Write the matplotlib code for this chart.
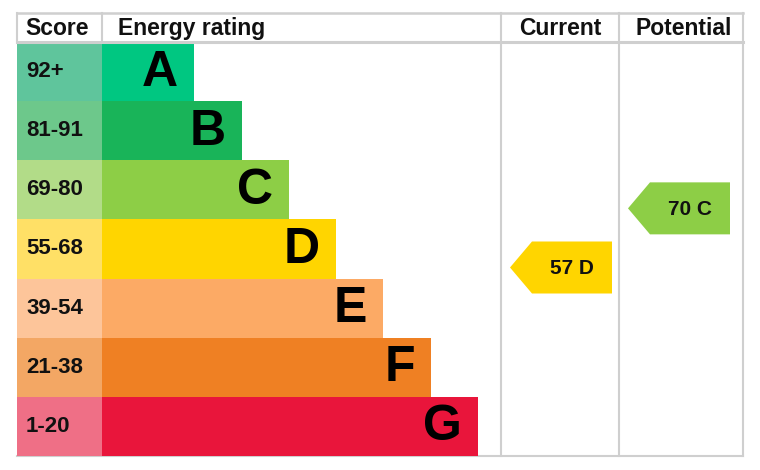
import matplotlib
matplotlib.use("Agg")
import matplotlib.pyplot as plt
from matplotlib.patches import Polygon

# ---- data ----
bands = ['A', 'B', 'C', 'D', 'E', 'F', 'G']
score_ranges = ['92+', '81-91', '69-80', '55-68', '39-54', '21-38', '1-20']
bar_widths = [92, 140, 187, 234, 281, 329, 376]
bar_colors = ['#00c781', '#19b459', '#8dce46', '#ffd500', '#fcaa65', '#ef8023', '#e9153b']
score_colors = ['#5fc59c', '#6dc88b', '#b2dc88', '#ffe066', '#fdc59a', '#f3a764', '#ef6f86']
headers = ['Score', 'Energy rating', 'Current', 'Potential']
current_score, current_band = 57, 'D'
potential_score, potential_band = 70, 'C'

plt.rcParams['font.family'] = ['Liberation Sans', 'DejaVu Sans']

fig = plt.figure(figsize=(7.6, 4.7), dpi=100)
ax = fig.add_axes([0, 0, 1, 1])
ax.set_xlim(0, 760)
ax.set_ylim(470, 0)
ax.axis('off')

left, score_w = 17, 85
bar_left = left + score_w
top, head_bot, bottom = 13, 42, 456
col1, col2, right = 501, 619, 743
row_h = (bottom - head_bot) / len(bands)
centers = [head_bot + row_h * (i + 0.5) for i in range(len(bands))]

# score cells and bars
ax.barh(centers, [score_w] * len(bands), left=left, height=row_h,
        color=score_colors, linewidth=0, zorder=2)
ax.barh(centers, bar_widths, left=bar_left, height=row_h,
        color=bar_colors, linewidth=0, zorder=2)

for c, s, b, w in zip(centers, score_ranges, bands, bar_widths):
    ax.text(left + 9, c, s, ha='left', va='center', fontsize=16,
            fontweight='bold', color='#111111', zorder=4)
    ax.text(bar_left + w - 16, c + 1, b, ha='right', va='center', fontsize=36,
            fontweight='bold', color='#000000', zorder=4)

# grid lines
gc = '#cfcfcf'
ax.plot([left, right], [top, top], color=gc, lw=1.8, zorder=3)
ax.plot([left, right], [head_bot, head_bot], color=gc, lw=2.2, zorder=3)
ax.plot([left, right], [bottom, bottom], color=gc, lw=1.5, zorder=1)
for x in (col1, col2, right):
    ax.plot([x, x], [top, bottom], color=gc, lw=1.5, zorder=3)
for x in (left, bar_left):
    ax.plot([x, x], [top, head_bot], color=gc, lw=1.5, zorder=3)

# headers
hy = (top + head_bot) / 2 + 1
hfs = 16.5
ax.text(left + 8, hy, headers[0], ha='left', va='center', fontsize=hfs,
        fontweight='bold', color='#111111')
ax.text(bar_left + 16, hy, headers[1], ha='left', va='center', fontsize=hfs,
        fontweight='bold', color='#111111')
ax.text((col1 + col2) / 2, hy, headers[2], ha='center', va='center', fontsize=hfs,
        fontweight='bold', color='#111111')
ax.text((col2 + right) / 2 + 3, hy, headers[3], ha='center', va='center', fontsize=hfs,
        fontweight='bold', color='#111111')

def arrow(col_left, score, band):
    i = bands.index(band)
    y = centers[i] + 18.5
    tip = col_left + 9
    shoulder = tip + 22
    rx = tip + 102
    hh = 26
    poly = Polygon([(tip, y), (shoulder, y - hh), (rx, y - hh), (rx, y + hh),
                    (shoulder, y + hh)], closed=True, facecolor=bar_colors[i],
                   edgecolor='none', zorder=4)
    ax.add_patch(poly)
    ax.text((shoulder + rx) / 2, y + 1, f'{score} {band}', ha='center', va='center',
            fontsize=15, fontweight='bold', color='#111111', zorder=5)

arrow(col1, current_score, current_band)
arrow(col2, potential_score, potential_band)

fig.savefig('out.png', dpi=100, facecolor='white')
